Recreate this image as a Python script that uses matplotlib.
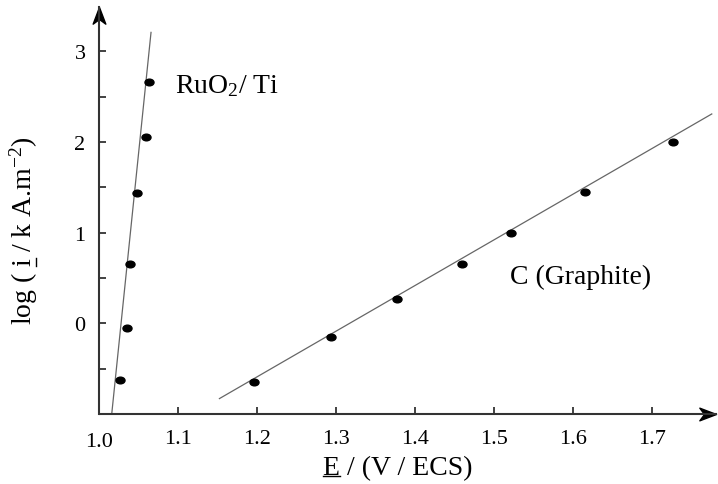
import numpy as np
import matplotlib
matplotlib.use('Agg')
import matplotlib.pyplot as plt
from matplotlib.path import Path
from matplotlib.lines import Line2D

# =====================================================================
# [1] 데이터
# =====================================================================
# RuO2 / Ti 전극
ruo2_E = [1.026, 1.0345, 1.039, 1.047, 1.059, 1.063]
ruo2_log_i = [-0.62, -0.05, 0.66, 1.44, 2.06, 2.66]
ruo2_fit_E = [1.0155, 1.0653]
ruo2_fit_log_i = [-1.0, 3.21]

# C (Graphite) 전극
graphite_E = [1.196, 1.294, 1.377, 1.459, 1.521, 1.615, 1.727]
graphite_log_i = [-0.65, -0.15, 0.265, 0.66, 1.0, 1.45, 2.0]
graphite_fit_E = [1.152, 1.776]
graphite_fit_log_i = [-0.83, 2.31]

x_ticks = [1.1, 1.2, 1.3, 1.4, 1.5, 1.6, 1.7]
x_tick_labels = ['1.1', '1.2', '1.3', '1.4', '1.5', '1.6', '1.7']
y_ticks = [0, 1, 2, 3]
y_minor_ticks = [-0.5, 0.5, 1.5, 2.5]

# =====================================================================
# [2] 글꼴 설정
# =====================================================================
plt.rcParams['font.family'] = ['Liberation Serif', 'DejaVu Serif']
plt.rcParams['mathtext.fontset'] = 'custom'
plt.rcParams['mathtext.rm'] = 'Liberation Serif'
plt.rcParams['mathtext.it'] = 'Liberation Serif:italic'

axis_color = '#333333'
line_color = '#666666'

# 타원 모양 점 마커
ellipse = Path.unit_circle()
ellipse = Path(ellipse.vertices * np.array([1.35, 1.0]), ellipse.codes)

# 화살표 마커 (x축용 / y축용)
arrow_right = Path([(0, 0), (-1, 0.38), (-0.72, 0), (-1, -0.38), (0, 0)],
                   [Path.MOVETO, Path.LINETO, Path.LINETO, Path.LINETO, Path.CLOSEPOLY])
arrow_up = Path([(0, 0), (-0.38, -1), (0, -0.72), (0.38, -1), (0, 0)],
                [Path.MOVETO, Path.LINETO, Path.LINETO, Path.LINETO, Path.CLOSEPOLY])

# =====================================================================
# [3] 그래프 그리기
# =====================================================================
fig = plt.figure(figsize=(7.18, 4.85), dpi=100)
ax = fig.add_axes([99.5 / 718, 70 / 485, (716 - 99.5) / 718, (485 - 8 - 70) / 485])

ax.set_xlim(1.0, 1.0 + (716 - 99.5) / 789)
ax.set_ylim(-1.0, 3.49)

ax.plot(ruo2_fit_E, ruo2_fit_log_i, color=line_color, linewidth=0.9, clip_on=False)
ax.plot(graphite_fit_E, graphite_fit_log_i, color=line_color, linewidth=0.9, clip_on=False)
ax.plot(ruo2_E, ruo2_log_i, linestyle='none', marker=ellipse, markersize=6.5, color='black')
ax.plot(graphite_E, graphite_log_i, linestyle='none', marker=ellipse, markersize=6.5, color='black')

ax.text(1.0957, 2.55, r'RuO$_2$/ Ti', fontsize=20, va='baseline', ha='left')
ax.text(1.520, 0.45, 'C (Graphite)', fontsize=20, va='baseline', ha='left')

# 축 스타일
for side in ['top', 'right']:
    ax.spines[side].set_visible(False)
for side in ['left', 'bottom']:
    ax.spines[side].set_color(axis_color)
    ax.spines[side].set_linewidth(1.5)

ax.plot(1, 0, marker=arrow_right, markersize=24, color='black',
        transform=ax.transAxes, clip_on=False)
ax.plot(0, 1, marker=arrow_up, markersize=24, color='black',
        transform=ax.transAxes, clip_on=False)

ax.set_xticks(x_ticks)
ax.set_xticklabels(x_tick_labels)
ax.set_yticks(y_ticks)
ax.set_yticks(y_minor_ticks, minor=True)
ax.tick_params(which='both', direction='in', length=5, width=1.3,
               color=axis_color, labelsize=16, pad=10)
ax.tick_params(axis='x', pad=11)

# x=1.0 눈금 라벨은 원점 아래에 따로 표시
ax.text(1.0, -0.043, '1.0', fontsize=16, ha='center', va='top',
        transform=ax.get_xaxis_transform())

xlab = ax.set_xlabel('E / (V / ECS)', fontsize=20)
ax.xaxis.set_label_coords(0.483, -0.1)
ylab = ax.set_ylabel(r'log ( i / k A.m$^{\mathrm{-2}}$)', fontsize=20)
ax.yaxis.set_label_coords(-0.097, 0.452)

# =====================================================================
# [4] 밑줄 (mathtext가 \underline을 지원하지 않으므로 직접 그림)
# =====================================================================
fig.canvas.draw()
renderer = fig.canvas.get_renderer()


def text_width(s, prop):
    w, h, d = renderer.get_text_width_height_descent(s, prop, ismath=False)
    return w, d


prop = xlab.get_fontproperties()
bb = xlab.get_window_extent(renderer)
w_E, _ = text_width('E', prop)
_, desc = text_width('E / (V / ECS)', prop)
y_base = bb.y0 + desc - 2
fig.add_artist(Line2D([bb.x0, bb.x0 + w_E], [y_base, y_base], color='black',
                      linewidth=1.0, transform=None))

prop = ylab.get_fontproperties()
bb = ylab.get_window_extent(renderer)
w_pre, _ = text_width('log ( ', prop)
w_i, _ = text_width('i', prop)
_, desc = text_width('log ( i / k A.m', prop)
x_base = bb.x1 - desc + 2
fig.add_artist(Line2D([x_base, x_base], [bb.y0 + w_pre, bb.y0 + w_pre + w_i],
                      color='black', linewidth=1.0, transform=None))

fig.savefig('out.png', dpi=100)
